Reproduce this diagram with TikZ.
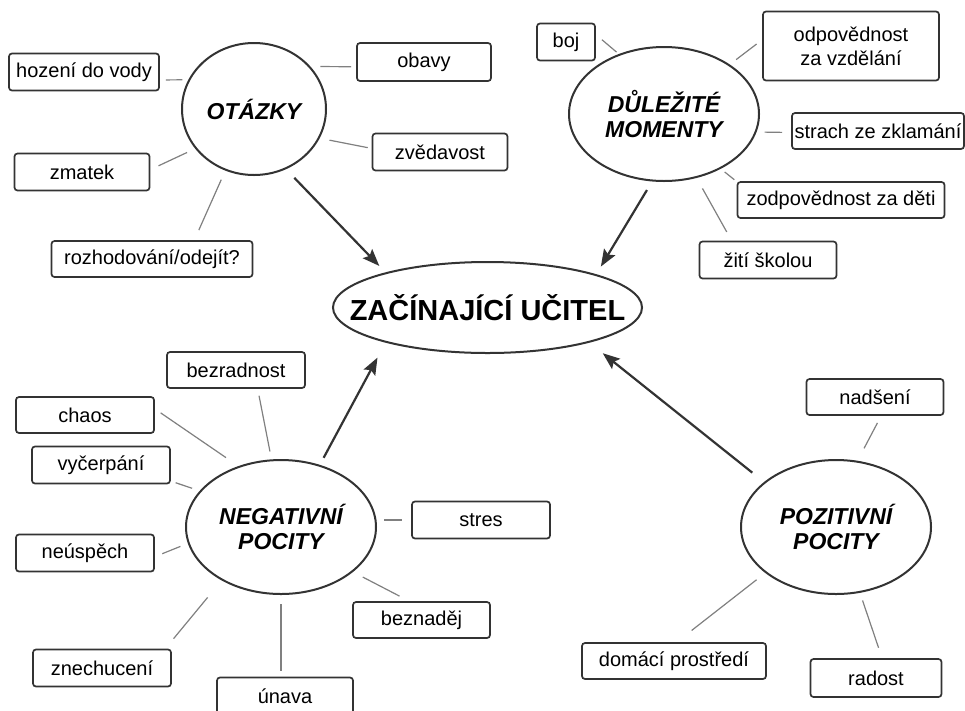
\documentclass[tikz,border=0pt]{standalone}
\usepackage{fontspec}
\setmainfont{Liberation Sans}
\usetikzlibrary{shapes.geometric,arrows.meta}
\definecolor{ink}{HTML}{333333}
\definecolor{twiggray}{HTML}{808080}
\tikzstyle{card}=[draw=ink, line width=1.7pt, rounded corners=3pt, inner sep=2pt, minimum height=37pt, align=center, font=\fontsize{20}{24}\selectfont]
\tikzstyle{bubble}=[ellipse, draw=ink, line width=2pt, inner sep=0pt, minimum width=190pt, minimum height=134pt, align=center, font=\fontsize{23}{25}\selectfont\bfseries\itshape]
\newcommand{\card}{\node[card]}
\newcommand{\bubble}{\node[bubble]}

\begin{document}
\begin{tikzpicture}[x=1pt, y=-1pt,
	every edge/.style={draw=twiggray, line width=1.2pt, shorten <=8pt, shorten >=8pt},
	feed/.style={draw=ink, line width=2.2pt, -{Stealth[length=17pt,width=13pt,inset=3pt]}}
	]
	\path[use as bounding box, fill=white] (0,0) rectangle (965,710);

	\bubble (ucitel) at (487.5,307.5) [minimum width=309pt, minimum height=91pt, font=\fontsize{29}{33}\selectfont\bfseries]{\makebox[0pt]{ZAČÍNAJÍCÍ UČITEL}};
	\bubble (otazky) at (254,109) [minimum width=144pt, minimum height=132pt]{OTÁZKY};
	\bubble (dulezite) at (664,114) {DŮLEŽITÉ\\MOMENTY};
	\bubble (negativni) at (281,527) {NEGATIVNÍ\\POCITY};
	\bubble (pozitivni) at (836,527) {POZITIVNÍ\\POCITY};

	\card (hozeni) at (84,72) [minimum width=150pt]{hození do vody};
	\card (obavy) at (424,62) [minimum width=134pt, minimum height=38pt]{obavy};
	\card (zvedavost) at (440,152) [minimum width=135pt]{zvědavost};
	\card (zmatek) at (82,172) [minimum width=135pt]{zmatek};
	\card (rozhodovani) at (152,259) [minimum width=201pt, minimum height=36pt]{rozhodování/odejít?};

	\card (boj) at (566,42) [minimum width=58pt]{boj};
	\card (odpovednost) at (851,46) [minimum width=176pt, minimum height=69pt]{odpovědnost\\za vzdělání};
	\card (strach) at (878,131) [minimum width=172pt, minimum height=36pt]{strach ze zklamání};
	\card (zodpovednost) at (841,200) [minimum width=207pt, minimum height=36pt]{zodpovědnost za děti};
	\card (ziti) at (768,260) [minimum width=137pt]{žití školou};

	\card (bezradnost) at (236,370) [minimum width=138pt, minimum height=36pt]{bezradnost};
	\card (chaos) at (85,415) [minimum width=138pt, minimum height=36pt]{chaos};
	\card (vycerpani) at (101,465) [minimum width=138pt]{vyčerpání};
	\card (neuspech) at (85,553) [minimum width=138pt]{neúspěch};
	\card (znechuceni) at (102,668) [minimum width=138pt]{znechucení};
	\card (unava) at (285,696) [minimum width=136pt]{únava};
	\card (stres) at (481,520) [minimum width=138pt]{stres};
	\card (beznadej) at (421.5,620) [minimum width=137pt, minimum height=36pt]{beznaděj};

	\card (nadseni) at (875,397) [minimum width=137pt, minimum height=36pt]{nadšení};
	\card (domaci) at (674,661) [minimum width=184pt, minimum height=36pt]{domácí prostředí};
	\card (radost) at (876,678) [minimum width=131pt, minimum height=38pt]{radost};

	\path
	(otazky.156) edge[shorten <=6pt, shorten >=6pt] (hozeni.-6)
	(otazky.37) edge[shorten <=10pt, shorten >=5pt] (obavy.184)
	(otazky.-24) edge[shorten <=10pt, shorten >=4pt] (zvedavost.177)
	(otazky.214) edge[shorten <=9pt, shorten >=9pt] (zmatek.2)
	(otazky.245) edge[shorten <=10pt, shorten >=11pt] (rozhodovani.24)
	(dulezite.127) edge[shorten <=3pt] (boj.14)
	(dulezite.37) edge[shorten >=7pt] (odpovednost.176)
	(dulezite.-11) edge[shorten >=9pt] (strach.181)
	(dulezite.-44) edge[shorten <=5pt, shorten >=3pt] (zodpovednost.170)
	(dulezite.-63) edge[shorten <=12pt, shorten >=10pt] (ziti.152)
	(negativni.98) edge[shorten >=7pt] (bezradnost.-41)
	(negativni.125) edge[shorten <=15pt, shorten >=7pt] (chaos.5)
	(negativni.156) edge[shorten >=5pt] (vycerpani.-13)
	(negativni.190) edge (neuspech.-3)
	(negativni.222) edge[shorten <=22pt, shorten >=13pt] (znechuceni.17)
	(negativni.south) edge[shorten <=9pt, shorten >=6pt] (negativni.south |- unava.north)
	(stres.west -| negativni.east) edge[shorten <=7pt, shorten >=9pt] (stres.west)
	(negativni.-32) edge[shorten <=11pt, shorten >=11pt] (beznadej.123)
	(pozitivni.72) edge[shorten <=14pt] (nadseni.-72)
	(pozitivni.213) edge[shorten <=11pt, shorten >=19pt] (domaci.82)
	(pozitivni.-70) edge[shorten >=11pt] (radost.73)
	;

	\draw[feed, shorten <=12pt, shorten >=9pt] (otazky.-62) -- (ucitel.161);
	\draw[feed, shorten <=10pt, shorten >=9pt] (dulezite.-100) -- (ucitel.17);
	\draw[feed, shorten <=8pt, shorten >=17pt] (negativni.58) -- (ucitel.199);
	\draw[feed, shorten <=15pt, shorten >=17pt] (pozitivni.148) -- (ucitel.-19);
\end{tikzpicture}
\end{document}
